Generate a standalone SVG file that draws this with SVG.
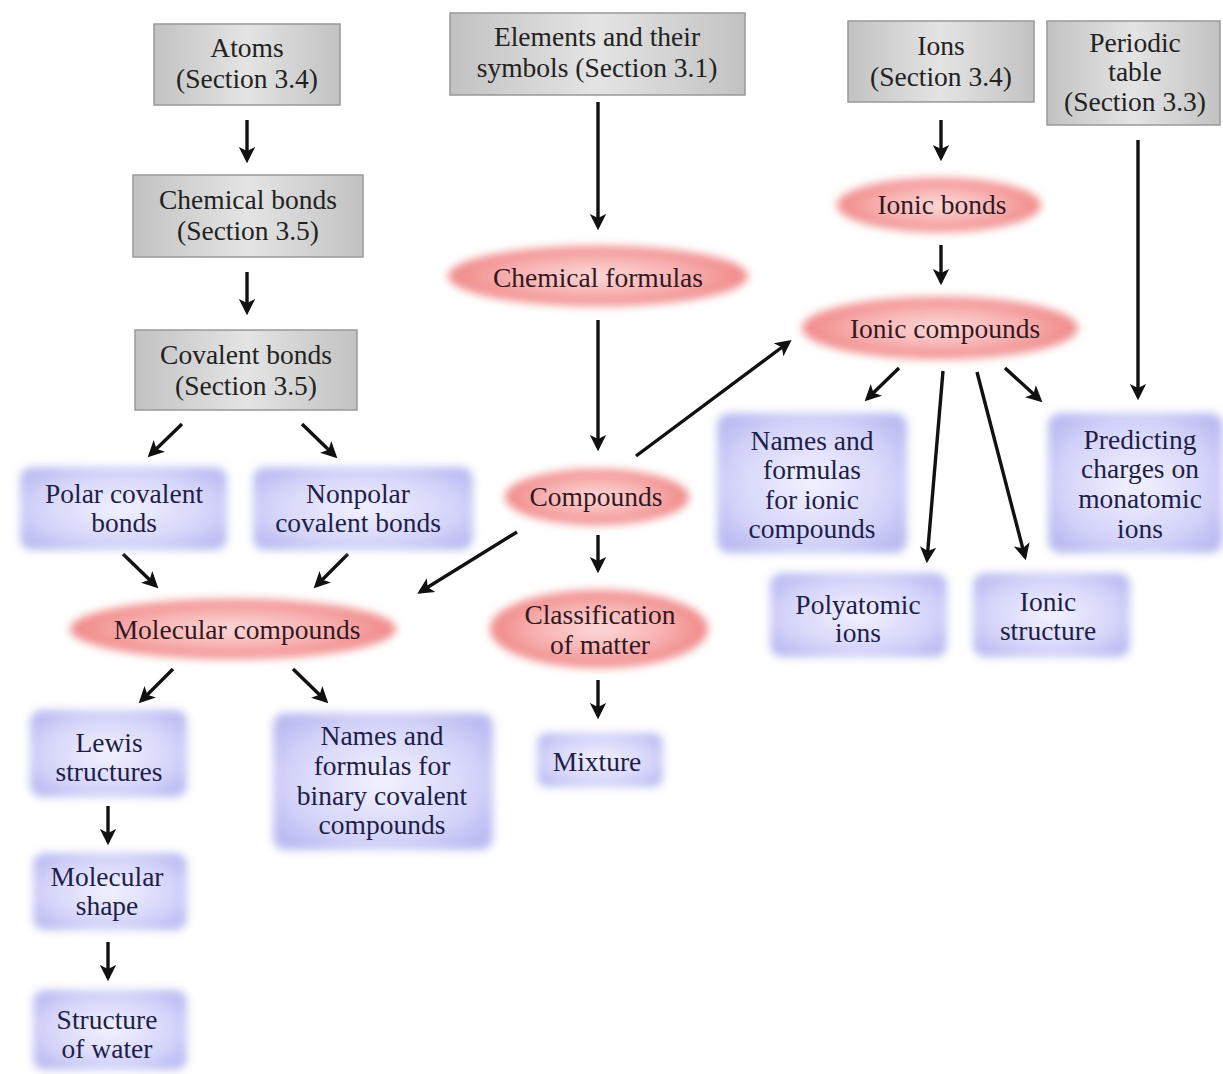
<svg xmlns="http://www.w3.org/2000/svg" width="1223" height="1074" viewBox="0 0 1223 1074">
<defs>
<style>
text{font-family:"Liberation Serif","DejaVu Serif",serif;font-size:27.5px;text-anchor:middle}
.gt{fill:#222}
.rt{fill:#34181e}
.bt{fill:#1e1e48}
.gbox{fill:url(#gg);stroke:#999;stroke-width:1.5}
.red{fill:url(#rg);filter:url(#blur)}
.blue{fill:url(#bg);filter:url(#blur)}
.arr{stroke:#111;stroke-width:3.4;fill:none;marker-end:url(#ah)}
</style>
<linearGradient id="gg" x1="0" y1="0" x2="1" y2="0">
<stop offset="0" stop-color="#c2c2c2"/>
<stop offset="0.5" stop-color="#e4e4e4"/>
<stop offset="1" stop-color="#c2c2c2"/>
</linearGradient>
<radialGradient id="rg" cx="0.5" cy="0.5" r="0.5">
<stop offset="0" stop-color="#fcdada"/>
<stop offset="0.6" stop-color="#f8b0b0"/>
<stop offset="1" stop-color="#f08888"/>
</radialGradient>
<radialGradient id="bg" cx="0.5" cy="0.5" r="0.6">
<stop offset="0" stop-color="#f2f2ff"/>
<stop offset="0.7" stop-color="#d4d4fa"/>
<stop offset="1" stop-color="#bcbcf2"/>
</radialGradient>
<filter id="blur" x="-20%" y="-40%" width="140%" height="180%">
<feGaussianBlur stdDeviation="4"/>
</filter>
<marker id="ah" viewBox="0 0 10 10" refX="8" refY="5" markerWidth="4.8" markerHeight="5.2" orient="auto" markerUnits="strokeWidth">
<path d="M0,0 L10,5 L0,10 L2.5,5 z" fill="#111"/>
</marker>
</defs>
<rect width="1223" height="1074" fill="#ffffff"/>

<g id="connectors">
<line class="arr" x1="247" y1="120" x2="247" y2="160"/>
<line class="arr" x1="247" y1="272" x2="247" y2="312"/>
<line class="arr" x1="182" y1="424" x2="150" y2="455"/>
<line class="arr" x1="302" y1="424" x2="335" y2="456"/>
<line class="arr" x1="123" y1="554" x2="156" y2="586"/>
<line class="arr" x1="348" y1="554" x2="316" y2="586"/>
<line class="arr" x1="517" y1="532" x2="420" y2="592"/>
<line class="arr" x1="173" y1="669" x2="141" y2="701"/>
<line class="arr" x1="293" y1="669" x2="326" y2="701"/>
<line class="arr" x1="108" y1="806" x2="108" y2="842"/>
<line class="arr" x1="108" y1="942" x2="108" y2="978"/>
<line class="arr" x1="598" y1="102" x2="598" y2="227"/>
<line class="arr" x1="598" y1="320" x2="598" y2="448"/>
<line class="arr" x1="598" y1="535" x2="598" y2="570"/>
<line class="arr" x1="598" y1="680" x2="598" y2="716"/>
<line class="arr" x1="636" y1="456" x2="789" y2="342"/>
<line class="arr" x1="941" y1="120" x2="941" y2="158"/>
<line class="arr" x1="941" y1="245" x2="941" y2="282"/>
<line class="arr" x1="1138" y1="140" x2="1138" y2="397"/>
<line class="arr" x1="899" y1="368" x2="867" y2="399"/>
<line class="arr" x1="943" y1="371" x2="927" y2="560"/>
<line class="arr" x1="977" y1="372" x2="1025" y2="557"/>
<line class="arr" x1="1005" y1="368" x2="1040" y2="400"/>
</g>

<g id="atoms">
<rect class="gbox" x="154" y="24" width="186" height="81"/>
<text class="gt" x="247" y="57">Atoms</text>
<text class="gt" x="247" y="88">(Section 3.4)</text>
</g>
<g id="chemical-bonds">
<rect class="gbox" x="133" y="175" width="230" height="82"/>
<text class="gt" x="248" y="209">Chemical bonds</text>
<text class="gt" x="248" y="240">(Section 3.5)</text>
</g>
<g id="covalent-bonds">
<rect class="gbox" x="135" y="330" width="222" height="80"/>
<text class="gt" x="246" y="364">Covalent bonds</text>
<text class="gt" x="246" y="395">(Section 3.5)</text>
</g>
<g id="elements">
<rect class="gbox" x="450" y="13" width="295" height="82"/>
<text class="gt" x="597" y="46">Elements and their</text>
<text class="gt" x="597" y="77">symbols (Section 3.1)</text>
</g>
<g id="ions">
<rect class="gbox" x="848" y="21" width="186" height="81"/>
<text class="gt" x="941" y="55">Ions</text>
<text class="gt" x="941" y="86">(Section 3.4)</text>
</g>
<g id="periodic-table">
<rect class="gbox" x="1047" y="21" width="173" height="104"/>
<text class="gt" x="1135" y="52">Periodic</text>
<text class="gt" x="1135" y="81">table</text>
<text class="gt" x="1135" y="111">(Section 3.3)</text>
</g>

<g id="chemical-formulas">
<ellipse class="red" cx="598" cy="276" rx="150" ry="30"/>
<text class="rt" x="598" y="287">Chemical formulas</text>
</g>
<g id="compounds">
<ellipse class="red" cx="597" cy="497" rx="92" ry="28"/>
<text class="rt" x="596" y="506">Compounds</text>
</g>
<g id="classification">
<ellipse class="red" cx="599" cy="629" rx="109" ry="39"/>
<text class="rt" x="600" y="624">Classification</text>
<text class="rt" x="600" y="654">of matter</text>
</g>
<g id="molecular-compounds">
<ellipse class="red" cx="233" cy="629" rx="163" ry="30"/>
<text class="rt" x="237" y="639">Molecular compounds</text>
</g>
<g id="ionic-bonds">
<ellipse class="red" cx="939" cy="205" rx="102" ry="27"/>
<text class="rt" x="942" y="214">Ionic bonds</text>
</g>
<g id="ionic-compounds">
<ellipse class="red" cx="940" cy="328" rx="138" ry="31"/>
<text class="rt" x="945" y="338">Ionic compounds</text>
</g>

<g id="polar">
<rect class="blue" x="20" y="467" width="207" height="83" rx="12"/>
<text class="bt" x="124" y="503">Polar covalent</text>
<text class="bt" x="124" y="532">bonds</text>
</g>
<g id="nonpolar">
<rect class="blue" x="253" y="467" width="220" height="83" rx="12"/>
<text class="bt" x="358" y="503">Nonpolar</text>
<text class="bt" x="358" y="532">covalent bonds</text>
</g>
<g id="lewis">
<rect class="blue" x="30" y="710" width="157" height="87" rx="12"/>
<text class="bt" x="109" y="752">Lewis</text>
<text class="bt" x="109" y="781">structures</text>
</g>
<g id="names-binary">
<rect class="blue" x="273" y="713" width="220" height="137" rx="12"/>
<text class="bt" x="382" y="745">Names and</text>
<text class="bt" x="382" y="775">formulas for</text>
<text class="bt" x="382" y="805">binary covalent</text>
<text class="bt" x="382" y="834">compounds</text>
</g>
<g id="molecular-shape">
<rect class="blue" x="33" y="853" width="154" height="77" rx="12"/>
<text class="bt" x="107" y="886">Molecular</text>
<text class="bt" x="107" y="915">shape</text>
</g>
<g id="structure-water">
<rect class="blue" x="33" y="990" width="154" height="80" rx="12"/>
<text class="bt" x="107" y="1029">Structure</text>
<text class="bt" x="107" y="1058">of water</text>
</g>
<g id="mixture">
<rect class="blue" x="537" y="733" width="126" height="54" rx="10"/>
<text class="bt" x="597" y="771">Mixture</text>
</g>
<g id="names-ionic">
<rect class="blue" x="717" y="413" width="190" height="140" rx="12"/>
<text class="bt" x="812" y="450">Names and</text>
<text class="bt" x="812" y="479">formulas</text>
<text class="bt" x="812" y="509">for ionic</text>
<text class="bt" x="812" y="538">compounds</text>
</g>
<g id="predicting">
<rect class="blue" x="1048" y="413" width="175" height="140" rx="12"/>
<text class="bt" x="1140" y="449">Predicting</text>
<text class="bt" x="1140" y="478">charges on</text>
<text class="bt" x="1140" y="508">monatomic</text>
<text class="bt" x="1140" y="538">ions</text>
</g>
<g id="polyatomic">
<rect class="blue" x="770" y="573" width="177" height="84" rx="12"/>
<text class="bt" x="858" y="614">Polyatomic</text>
<text class="bt" x="858" y="642">ions</text>
</g>
<g id="ionic-structure">
<rect class="blue" x="973" y="573" width="157" height="84" rx="12"/>
<text class="bt" x="1048" y="611">Ionic</text>
<text class="bt" x="1048" y="640">structure</text>
</g>
</svg>
